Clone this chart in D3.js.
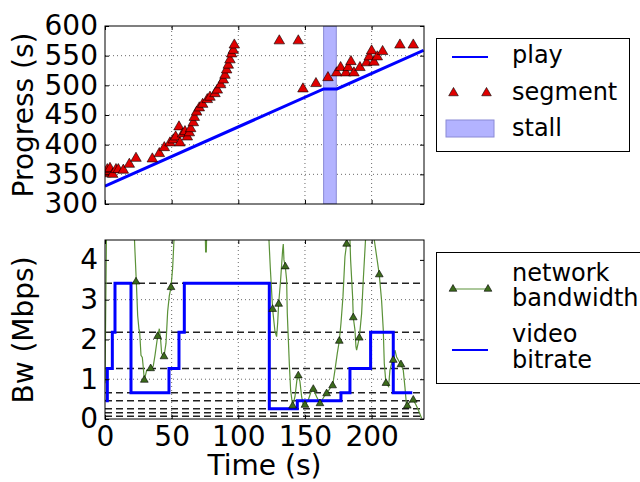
<!DOCTYPE html>
<html>
<head>
<meta charset="utf-8">
<script src="https://cdn.jsdelivr.net/npm/d3@7"></script>
<style>
  body { margin: 0; background: #fff; }
  text { font-family: "DejaVu Sans", sans-serif; }
</style>
</head>
<body>
<script>
// ---- data ----
// top plot: segment download progress (time s, media position s)
var segTime = [0.75, 1.75, 3.75, 5.75, 8.25, 10, 13.75, 18.25, 23.25, 35.5, 40.75, 44.5, 48.75, 51.25, 53,
  55.5, 56.25, 58.25, 60, 61.75, 63.25, 64.25, 66.25, 67, 68.75, 70.75, 73.25, 76.75, 78.75, 82.5, 84.25,
  86.75, 88.75, 90, 91.25, 92.5, 93.75, 95, 96.25, 97,
  130.75, 145, 148.5, 158.25, 167.25, 173.75, 176.75, 180.75, 182.5, 184.5, 186.75, 191.25, 196.25,
  198.25, 200, 201.75, 204.25, 208.25, 221.25, 231.25];
var segPos = [351, 358, 360, 350, 358, 358, 357, 367, 377, 376, 385, 395, 403, 408, 413,
  430, 403, 418, 422, 413, 420, 427, 437, 446, 455, 462, 468, 476, 480, 486, 492,
  501, 509, 517, 526, 534, 543, 553, 559, 568,
  575, 575, 494, 503, 513, 521, 530, 521, 530, 540, 521, 530, 538,
  548, 558, 539, 548, 557, 568, 568];

// playback position
var playTime = [0, 164, 174, 239];
var playPos = [330, 494, 494, 559];
var stallStart = 164, stallEnd = 173.5;

// bottom plot: measured network bandwidth (Mbps)
var bwTime = [0, 0.5, 1.2, 21.5, 22.5, 23.5, 24.5, 25.5, 26, 27, 28, 28.7, 29.5, 31.3, 33.8, 35, 36.2, 37.5,
  39.5, 40.75, 41.75, 42.5, 44.25, 45.75, 47, 48.25, 49.5, 50.75, 51.75, 53.25,
  75, 75.5, 76, 76.5,
  122, 123, 124, 125.75, 127.5, 128.75, 129.5, 130.25, 131.75, 133.25, 133.75, 134.25, 135.25, 136.25,
  136.75, 138.25, 139.25, 140.75, 142.5, 144.25, 145, 146.25, 147.5, 148.75, 150, 152.5, 155, 156.25,
  158.75, 161.25, 164.25, 166.25, 168.75, 170.75, 172.5, 174.25, 175.75, 177, 178.5, 180, 181.25, 182.5,
  183.25, 184.25, 185.75, 186.25, 187.5, 188.25, 188.75, 190.75, 192.5, 193.75, 195, 196.25,
  201.5, 202, 205.75, 207.5, 208.75, 209.5, 210.75, 212.75, 213.75, 216, 217.5, 218.75, 220.75, 222,
  223.75, 225, 226.25, 229, 231.25, 233.25, 235, 237.5];
var bwMbps = [0.9, 2.6, 5, 5, 4.2, 3.45, 2.6, 2.25, 2.2, 1.6, 1.55, 1.3, 0.98, 1.23, 1.23, 1.27, 1.33, 1.6,
  2.08, 2.27, 1.98, 1.65, 1.57, 1.9, 2.7, 3.1, 3.31, 3.8, 4.5, 5,
  5, 4.2, 4.2, 5,
  5, 4.5, 3.8, 2.76, 2.2, 2.07, 2.4, 2.89, 3.5, 4.25, 4.4, 4.0, 3.83, 3.5,
  2.65, 1.4, 0.73, 0.33, 0.56, 1.06, 1.09, 0.94, 0.56, 0.35, 0.35, 0.48, 0.73, 0.75,
  0.56, 0.39, 0.56, 0.64, 0.77, 0.84, 1.23, 1.65, 1.96, 2.4, 3.07, 4.08, 4.4, 5,
  5, 4.0, 3.07, 2.55, 2.24, 1.82, 1.73, 2.04, 2.65, 3.5, 4.25, 5,
  5, 4.5, 3.63, 2.97, 2.24, 1.4, 0.9, 0.82, 1.23, 1.52, 1.73, 1.56, 1.44, 1.37,
  1.23, 0.8, 0.31, 0.44, 0.48, 0.36, 0.23, 0.02];
var bwMarkTime = [23.25, 29.5, 34.25, 39.5, 44.25, 49.5, 125.75, 130.25, 135.25, 140.75, 145, 150, 156.25,
  161.25, 166.25, 170.75, 175.75, 181.25, 186.25, 190.75, 205.75, 210.75, 216.25, 222, 226.75, 231.25];
var bwMarkMbps = [3.45, 0.98, 1.27, 2.08, 1.57, 3.31, 2.76, 2.89, 3.83, 0.33, 1.09, 0.35, 0.75,
  0.39, 0.64, 0.84, 1.96, 4.4, 2.55, 2.04, 3.63, 0.9, 1.48, 1.37, 0.33, 0.48];

// selected video bitrate (step changes)
var rateTime = [0.5, 1.75, 5.5, 7.5, 19.5, 48, 55.5, 59.5, 123.25, 144.25, 177, 183.75, 199.25, 216.25, 230.5];
var rateMbps = [0.46, 1.27, 2.18, 3.41, 0.66, 1.27, 2.18, 3.41, 0.26, 0.46, 0.66, 1.27, 2.18, 0.66, 0.66];

// available bitrate levels (dashed lines)
var levels = [0.07, 0.16, 0.26, 0.46, 0.66, 1.27, 2.18, 3.41];

var xTicks = [0, 50, 100, 150, 200];
var progTicks = [300, 350, 400, 450, 500, 550, 600];
var bwTicks = [0, 1, 2, 3, 4];

// ---- layout ----
var svg = d3.select("body").append("svg")
  .attr("width", 640).attr("height", 482);

var x = d3.scaleLinear().domain([0, 239.3]).range([105, 424]);
var yTop = d3.scaleLinear().domain([300, 600]).range([204, 26]);
var yBot = d3.scaleLinear().domain([0, 4.5]).range([419, 240]);

var defs = svg.append("defs");
defs.append("clipPath").attr("id", "clipTop").append("rect")
  .attr("x", 105).attr("y", 26).attr("width", 319).attr("height", 178);
defs.append("clipPath").attr("id", "clipBot").append("rect")
  .attr("x", 105).attr("y", 240).attr("width", 319).attr("height", 179);

function tri(size) { return d3.symbol().type(d3.symbolTriangle).size(size)(); }

// dotted grid for one panel
function grid(y, yTicks) {
  var g = svg.append("g");
  var y0 = y.range()[0], y1 = y.range()[1];
  g.selectAll(".gx").data(xTicks.slice(1)).enter().append("line")
    .attr("x1", d => x(d)).attr("x2", d => x(d))
    .attr("y1", y0).attr("y2", y1)
    .attr("stroke", "#444").attr("stroke-width", 0.8).attr("stroke-dasharray", "1,3");
  g.selectAll(".gy").data(yTicks.slice(1, -1)).enter().append("line")
    .attr("x1", 105).attr("x2", 424)
    .attr("y1", d => y(d)).attr("y2", d => y(d))
    .attr("stroke", "#444").attr("stroke-width", 0.8).attr("stroke-dasharray", "1,3");
}

// ticks on all four sides + frame
function frame(y, yTicks, showX) {
  var y0 = y.range()[0], y1 = y.range()[1];
  var aL = svg.append("g").attr("transform", "translate(105,0)")
    .call(d3.axisLeft(y).tickValues(yTicks).tickSize(-4).tickPadding(7).tickFormat(d3.format("d")));
  var aR = svg.append("g").attr("transform", "translate(424,0)")
    .call(d3.axisRight(y).tickValues(yTicks).tickSize(-4).tickFormat(""));
  var aT = svg.append("g").attr("transform", "translate(0," + y1 + ")")
    .call(d3.axisTop(x).tickValues(xTicks).tickSize(-4).tickFormat(""));
  var aB = svg.append("g").attr("transform", "translate(0," + y0 + ")")
    .call(d3.axisBottom(x).tickValues(xTicks).tickSize(-4).tickPadding(7)
      .tickFormat(showX ? d3.format("d") : ""));
  [aL, aR, aT, aB].forEach(function (a) {
    a.select(".domain").remove();
    a.selectAll("line").attr("stroke", "#000");
    a.attr("font-family", null).attr("font-size", null);
    a.selectAll("text").style("font-size", "28px").attr("fill", "#000");
  });
  svg.append("rect").attr("x", 105).attr("y", y1)
    .attr("width", 319).attr("height", y0 - y1)
    .attr("fill", "none").attr("stroke", "#000").attr("stroke-width", 1);
}

// ---- top panel ----
grid(yTop, progTicks);
var topG = svg.append("g").attr("clip-path", "url(#clipTop)");
topG.append("rect")
  .attr("x", x(stallStart)).attr("y", 26)
  .attr("width", x(stallEnd) - x(stallStart)).attr("height", 178)
  .attr("fill", "#b3b3ff").attr("stroke", "#8a8ad6").attr("stroke-width", 1);
topG.append("path")
  .datum(d3.range(playTime.length))
  .attr("d", d3.line().x(i => x(playTime[i])).y(i => yTop(playPos[i])))
  .attr("fill", "none").attr("stroke", "#0000ff").attr("stroke-width", 3);
topG.selectAll(".seg").data(d3.range(segTime.length)).enter().append("path")
  .attr("d", tri(48))
  .attr("transform", i => "translate(" + x(segTime[i]) + "," + yTop(segPos[i]) + ")")
  .attr("fill", "#e00000").attr("stroke", "#000").attr("stroke-width", 0.6);
frame(yTop, progTicks, false);

// ---- bottom panel ----
grid(yBot, bwTicks);
var botG = svg.append("g").attr("clip-path", "url(#clipBot)");
botG.selectAll(".lvl").data(levels).enter().append("line")
  .attr("x1", 105).attr("x2", 424)
  .attr("y1", d => yBot(d)).attr("y2", d => yBot(d))
  .attr("stroke", "#222").attr("stroke-width", 1.5).attr("stroke-dasharray", "7,4");
botG.append("path")
  .datum(d3.range(bwTime.length))
  .attr("d", d3.line().x(i => x(bwTime[i])).y(i => yBot(bwMbps[i])))
  .attr("fill", "none").attr("stroke", "#5b9238").attr("stroke-width", 1.2);
botG.append("path")
  .datum(d3.range(rateTime.length))
  .attr("d", d3.line().curve(d3.curveStepAfter).x(i => x(rateTime[i])).y(i => yBot(rateMbps[i])))
  .attr("fill", "none").attr("stroke", "#0000ff").attr("stroke-width", 3);
botG.selectAll(".bwm").data(d3.range(bwMarkTime.length)).enter().append("path")
  .attr("d", tri(26))
  .attr("transform", i => "translate(" + x(bwMarkTime[i]) + "," + yBot(bwMarkMbps[i]) + ")")
  .attr("fill", "#3c6b1c").attr("stroke", "#000").attr("stroke-width", 0.6);
frame(yBot, bwTicks, true);

// ---- axis labels ----
svg.append("text").attr("transform", "translate(33,115) rotate(-90)")
  .attr("text-anchor", "middle").style("font-size", "28px").text("Progress (s)");
svg.append("text").attr("transform", "translate(33,330) rotate(-90)")
  .attr("text-anchor", "middle").style("font-size", "28px").text("Bw (Mbps)");
svg.append("text").attr("x", 264.5).attr("y", 475)
  .attr("text-anchor", "middle").style("font-size", "28px").text("Time (s)");

// ---- legends ----
var lg1 = svg.append("g");
lg1.append("rect").attr("x", 436.5).attr("y", 38.5).attr("width", 193).attr("height", 113)
  .attr("fill", "#fff").attr("stroke", "#000").attr("stroke-width", 1);
lg1.append("line").attr("x1", 452).attr("x2", 488).attr("y1", 57).attr("y2", 57)
  .attr("stroke", "#0000ff").attr("stroke-width", 2);
lg1.selectAll(".lt").data([453.5, 486.5]).enter().append("path")
  .attr("d", tri(40)).attr("transform", d => "translate(" + d + ",93)")
  .attr("fill", "#e00000").attr("stroke", "#000").attr("stroke-width", 0.6);
lg1.append("rect").attr("x", 446).attr("y", 120).attr("width", 48).attr("height", 17)
  .attr("fill", "#b3b3ff").attr("stroke", "#8a8ad6").attr("stroke-width", 1);
lg1.selectAll(".lbl").data([["play", 63], ["segment", 100], ["stall", 136]]).enter().append("text")
  .attr("x", 512).attr("y", d => d[1]).style("font-size", "24px").text(d => d[0]);

var lg2 = svg.append("g");
lg2.append("rect").attr("x", 436.5).attr("y", 252.5).attr("width", 220).attr("height", 131)
  .attr("fill", "#fff").attr("stroke", "#000").attr("stroke-width", 1);
lg2.append("line").attr("x1", 453).attr("x2", 488).attr("y1", 289).attr("y2", 289)
  .attr("stroke", "#5b9238").attr("stroke-width", 1.2);
lg2.selectAll(".lt").data([453, 488]).enter().append("path")
  .attr("d", tri(26)).attr("transform", d => "translate(" + d + ",289)")
  .attr("fill", "#3c6b1c").attr("stroke", "#000").attr("stroke-width", 0.6);
lg2.append("line").attr("x1", 452).attr("x2", 488).attr("y1", 350).attr("y2", 350)
  .attr("stroke", "#0000ff").attr("stroke-width", 2);
lg2.selectAll(".lbl").data([["network", 281], ["bandwidth", 306], ["video", 342], ["bitrate", 368]])
  .enter().append("text")
  .attr("x", 512).attr("y", d => d[1]).style("font-size", "24px").text(d => d[0]);
</script>
</body>
</html>
